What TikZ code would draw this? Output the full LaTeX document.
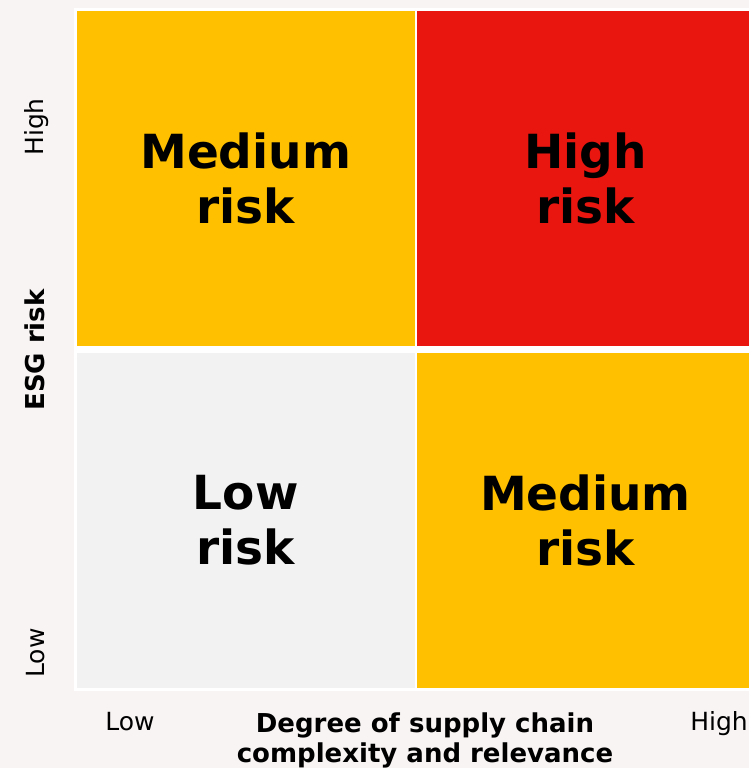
\documentclass[tikz,border=0pt]{standalone}
\usepackage{fontspec}
\setmainfont{DejaVu Sans}
\usepackage{tikz}
\usetikzlibrary{
    positioning,
    backgrounds,
    fit
}
\definecolor{ink}    {HTML}{000000}
\definecolor{pagebg} {HTML}{F8F4F3}
\definecolor{amber}  {HTML}{FFC000}
\definecolor{alarm}  {HTML}{E9160F}
\definecolor{calm}   {HTML}{F2F2F2}

\begin{document}
\begin{tikzpicture}[
    x=1pt, y=-1pt,
    %% --- semantic styles ---
    cellbox/.style   = {rectangle, minimum width=337.5pt, minimum height=335pt,
                        inner sep=0pt, outer sep=0pt, align=center, text=ink,
                        font=\fontsize{47}{55}\selectfont\bfseries},
    ticklabel/.style = {font=\fontsize{25}{30}\selectfont, text=ink},
    axislabel/.style = {font=\fontsize{26}{30}\selectfont\bfseries,
                        align=center, text=ink}
]
\path[use as bounding box] (0,0) rectangle (749,768);

%% =====================================================
%% Risk matrix -- 2 x 2 cells
%% =====================================================
\node[cellbox, fill=amber] (TL) at (245.75, 178.5) {Medium\\risk};
\node[cellbox, fill=alarm, right=2.25pt of TL] (TR) {High\\risk};
\node[cellbox, fill=calm, below=7pt of TL] (BL) {Low\\risk};
\node[cellbox, fill=amber, below=7pt of TR] (BR) {Medium\\risk};

% page colour and white frame behind the cells
\begin{scope}[on background layer]
    \fill[pagebg] (0,0) rectangle (749,768);
    \node[fill=white, inner sep=3pt, fit=(TL) (BR)] (GRID) {};
\end{scope}

%% =====================================================
%% Axes
%% =====================================================
\node[ticklabel, anchor=base] (XLO) at (130, 730) {Low};
\node[ticklabel, anchor=base] (XHI) at (719, 730) {High};
\node[axislabel, anchor=base] (XAX) at (425, 762)
    {Degree of supply chain\\complexity and relevance};

\node[ticklabel, rotate=90] (YHI) at (37, 127) {High};
\node[ticklabel, rotate=90] (YLO) at (36, 653) {Low};
\node[axislabel, rotate=90] (YAX) at (35, 350) {ESG risk};

\end{tikzpicture}
\end{document}
